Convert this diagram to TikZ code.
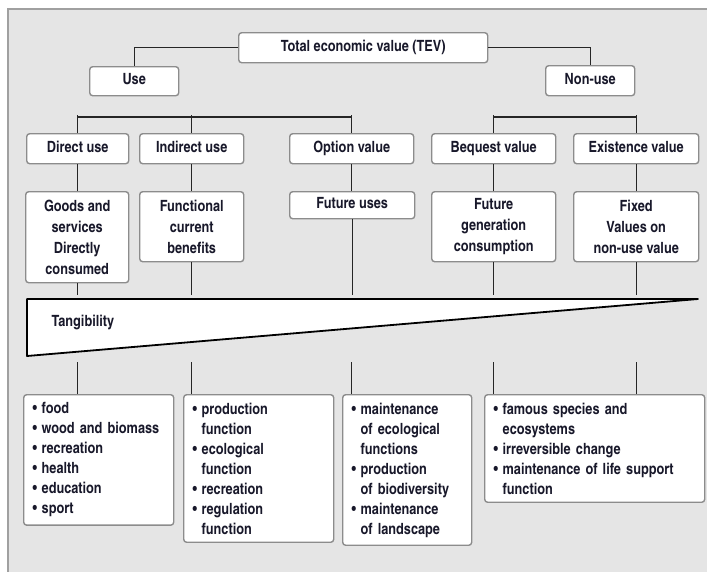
\documentclass[tikz,border=0pt]{standalone}
\usepackage{fontspec}
\setmainfont{texgyreheroscn}[Extension=.otf, UprightFont=*-regular, BoldFont=*-bold]

\definecolor{panelgray}{HTML}{E5E5E5}
\definecolor{rimgray}{HTML}{A0A0A0}
\definecolor{boxgray}{HTML}{8C8C8C}
\definecolor{inkdark}{HTML}{18182A}

\newcommand{\bul}{\makebox[9pt][l]{\textbullet}}
\newcommand{\cnt}{\hspace*{9pt}}

\tikzset{
  valbox/.style={draw=boxgray, fill=white, line width=1.4pt, rounded corners=3pt,
    inner sep=2pt, text=inkdark, align=center, anchor=north west,
    font=\bfseries\fontsize{15.5}{21}\selectfont},
  onebox/.style={valbox, text height=11pt, text depth=3.5pt},
  listbox/.style={valbox, align=left, inner xsep=9pt, inner ysep=8pt,
    font=\bfseries\fontsize{15.5}{20}\selectfont},
  link/.style={draw=black!85, line width=1.4pt},
}

\begin{document}
\begin{tikzpicture}[x=1pt, y=-1pt]
\useasboundingbox (0,0) rectangle (707,571);
% panel
\fill[panelgray] (8,9) rectangle (714,578);
\draw[rimgray, line width=1.2pt] (8,578) -- (8,9) -- (714,9);

% top levels
\node (tev) at (238,32) [onebox, minimum width=249pt, minimum height=30pt] {Total economic value (TEV)};
\node (use) at (89,66) [onebox, minimum width=89pt, minimum height=29pt] {Use};
\node (nonuse) at (545,65) [onebox, minimum width=89pt, minimum height=30pt] {Non-use};

\node (direct) at (26,133) [onebox, minimum width=102pt, minimum height=30pt] {Direct use};
\node (indirect) at (139,133) [onebox, minimum width=104pt, minimum height=30pt] {Indirect use};
\node (option) at (289,133) [onebox, minimum width=124pt, minimum height=30pt] {Option value};
\node (bequest) at (431,133) [onebox, minimum width=124pt, minimum height=30pt] {Bequest value};
\node (existence) at (573,133) [onebox, minimum width=125pt, minimum height=30pt] {Existence value};

\node (goods) at (25,191) [valbox, minimum width=103pt, minimum height=91pt] {Goods and\\services\\Directly\\consumed};
\node (functional) at (139,191) [valbox, minimum width=104pt, minimum height=70pt] {Functional\\current\\benefits};
\node (futureuses) at (289,191) [onebox, minimum width=125pt, minimum height=27pt] {Future uses};
\node (futuregen) at (431,191) [valbox, minimum width=124pt, minimum height=70pt] {Future\\generation\\consumption};
\node (fixed) at (573,191) [valbox, minimum width=125pt, minimum height=70pt] {Fixed\\Values on\\non-use value};

% tangibility wedge
\draw[line width=1.8pt, fill=white, line join=round] (27,299) -- (698,299) -- (27,356) -- cycle;
\node (tang) at (48,322) [anchor=west, text=inkdark, font=\bfseries\fontsize{15.5}{20}\selectfont] {Tangibility};

% lists
\node (lista) at (23,394) [listbox, text width=132pt] {\bul food\\\bul wood and biomass\\\bul recreation\\\bul health\\\bul education\\\bul sport};
\node (listb) at (183,394) [listbox, text width=132pt] {\bul production\\\cnt function\\\bul ecological\\\cnt function\\\bul recreation\\\bul regulation\\\cnt function};
\node (listc) at (342,394) [listbox, text width=111pt] {\bul maintenance\\\cnt of ecological\\\cnt functions\\\bul production\\\cnt of biodiversity\\\bul maintenance\\\cnt of landscape};
\node (listd) at (484,394) [listbox, text width=202pt] {\bul famous species and\\\cnt ecosystems\\\bul irreversible change\\\bul maintenance of life support\\\cnt function};

% connectors
\coordinate (ubar) at (0,117);
\coordinate (wtop) at (0,295);
\coordinate (wbot) at (0,362);
\draw[link] (tev.west) -| (use.north);
\draw[link] (tev.east) -| (nonuse.north);
\draw[link] (direct.north |- ubar) -- (option.north |- ubar);
\draw[link] (bequest.north |- ubar) -- (existence.north |- ubar);
\foreach \v in {direct,indirect,option,bequest,existence}
  \draw[link] ([yshift=2pt]\v.north |- ubar) -- (\v.north);
\draw[link] (direct.south) -- (direct.south |- goods.north);
\draw[link] (indirect.south) -- (indirect.south |- functional.north);
\draw[link] (option.south) -- (option.south |- futureuses.north);
\draw[link] (bequest.south) -- (bequest.south |- futuregen.north);
\draw[link] (existence.south) -- (existence.south |- fixed.north);
\draw[link] (direct.south |- goods.south) -- (direct.south |- wtop);
\draw[link] (functional.south) -- (functional.south |- wtop);
\draw[link] (futureuses.south) -- (futureuses.south |- wtop);
\draw[link] (futuregen.south) -- (futuregen.south |- wtop);
\draw[link] (fixed.south) -- (fixed.south |- wtop);
\draw[link] (direct.south |- wbot) -- (direct.south |- lista.north);
\draw[link] (indirect.south |- wbot) -- (indirect.south |- listb.north);
\draw[link] (option.south |- wbot) -- (option.south |- listc.north);
\draw[link] (bequest.south |- wbot) -- (bequest.south |- listd.north);
\draw[link] (existence.south |- wbot) -- (existence.south |- listd.north);
\end{tikzpicture}
\end{document}
